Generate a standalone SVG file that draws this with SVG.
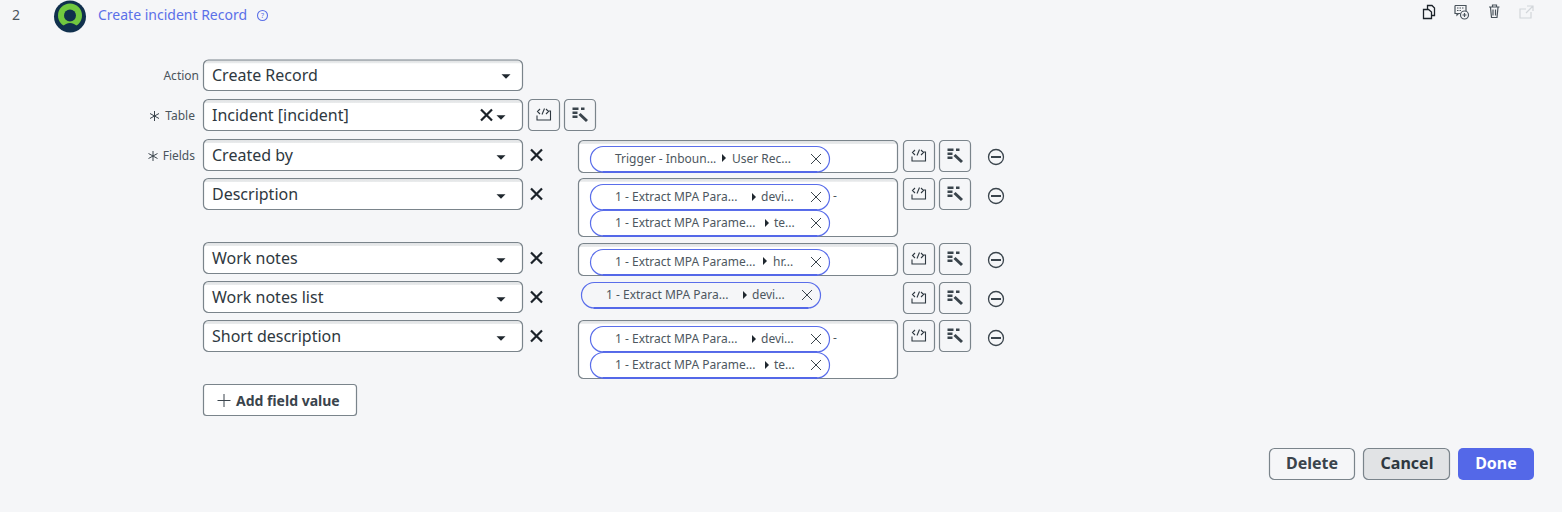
<svg xmlns="http://www.w3.org/2000/svg" width="1562" height="512" viewBox="0 0 1562 512">
<style>
text{font-family:"Noto Sans","Open Sans","Liberation Sans",sans-serif}
.sel{fill:url(#inset);stroke:#7a848b;stroke-width:1.200}
.tall{fill:url(#insetTall);stroke:#7a848b;stroke-width:1.200}
.val{font-size:16px;fill:#2e3840}
.lbl{font-size:12px;fill:#4a545c;text-anchor:end}
.pt{font-size:12px;fill:#4d5760}
.btn{fill:#f5f6f8;stroke:#7a848b;stroke-width:1.200}
.ic{fill:none;stroke:#2e3840;stroke-width:1.100}
.x{fill:none;stroke:#1b2229;stroke-width:2.200}
.px{fill:none;stroke:#3a444c;stroke-width:1}
.b{font-size:16px;font-weight:700;text-anchor:middle;fill:#3a444c}
</style>
<defs>
<linearGradient id="inset" x1="0" y1="0" x2="0" y2="1"><stop offset="0" stop-color="#dfe1e3"/><stop offset="0.1" stop-color="#e9ebec"/><stop offset="0.12" stop-color="#fff"/></linearGradient>
<linearGradient id="insetTall" x1="0" y1="0" x2="0" y2="1"><stop offset="0" stop-color="#dfe1e3"/><stop offset="0.05" stop-color="#e9ebec"/><stop offset="0.06" stop-color="#fff"/></linearGradient>
<path id="caret" d="M-4.500-2H4.500L0 2.500Z" fill="#1f272e"/>
<path id="tri" d="M0-4L4 0L0 4Z" fill="#1f272e"/>
<g id="pill"><rect x="0" y="0" width="239" height="25.500" rx="12.700" fill="none" stroke="#5a6eea" stroke-width="1.200"/><path d="M12 25.500H227" stroke="#5468e8" stroke-width="1.800" fill="none"/></g>
<g id="code"><rect class="btn" x="0.500" y="0.500" width="31" height="31" rx="4"/><path class="ic" d="M9 16.500V21H22.500V12H20.500M12 10L9.500 12.500L12 15M14 15.500L16.500 9.500M18 10L20.500 12.500L18 15"/></g>
<g id="wand"><rect class="btn" x="0.500" y="0.500" width="31" height="31" rx="4"/><path d="M8.500 9.700h6M8.500 13.700h5M8.500 17.700h5M17 9.700h3.500" stroke="#3a444c" stroke-width="2.400" fill="none"/><path d="M15.500 15L23 22" stroke="#3a444c" stroke-width="3" fill="none"/></g>
<g id="minus"><circle cx="0" cy="0" r="7.500" fill="none" stroke="#3a444c" stroke-width="1.300"/><path d="M-5 0H5" stroke="#3a444c" stroke-width="2"/></g>
<path id="bigx" class="x" d="M-5.500-5.500L5.500 5.500M5.500-5.500L-5.500 5.500"/>
<path id="smx" class="px" d="M-5-5L5 5M5-5L-5 5"/>
</defs>
<rect width="1562" height="512" fill="#f5f6f8"/>

<g id="header">
<text x="12" y="20" font-size="14" fill="#4a545c">2</text>
<circle cx="70" cy="16.500" r="16" fill="#10304d"/>
<circle cx="70" cy="15.500" r="12" fill="#71c83f"/>
<path d="M62 27Q70 19 78 27L76 30H64Z" fill="#10304d"/>
<circle cx="70" cy="15.500" r="6" fill="#10304d"/>
<text x="98" y="20" font-size="14" fill="#5b70e8">Create incident Record</text>
<circle cx="262.500" cy="15.500" r="5" fill="none" stroke="#5b70e8" stroke-width="1.100"/>
<text x="262.500" y="18" font-size="7" fill="#5b70e8" text-anchor="middle">?</text>
</g>

<g id="toolbar" fill="none" stroke="#2e3840" stroke-width="1.200">
<path d="M1427.500 9V5.500H1432L1434.500 8V15.500H1431.500M1423.500 9.500H1428.500L1431.500 12V18.500H1423.500Z" stroke-width="1.300" stroke="#1b2229"/>
<path d="M1455 5.500H1466V11M1460 13.500H1458.500L1457 15V13.500H1455V5.500" stroke="#4a545c"/>
<path d="M1457 8H1464M1457 10.500H1461" stroke="#4a545c" stroke-dasharray="1.500 1"/>
<circle cx="1464.500" cy="15" r="4" stroke="#4a545c"/>
<path d="M1462.500 15h4M1464.500 13v4" stroke="#4a545c"/>
<path d="M1489 7H1499.500M1490.500 7.500L1491.500 17.500H1497L1498 7.500M1492.500 7V5H1496.500V7M1493 9.500V15.500M1495.500 9.500V15.500" stroke="#4a545c"/>
<path d="M1526 9H1520V18H1531V12M1527 6H1533V11M1533 6L1526 13" stroke="#d2d6da"/>
</g>

<g id="action">
<text class="lbl" x="199" y="80">Action</text>
<rect class="sel" x="203.500" y="60" width="319" height="30.500" rx="5"/>
<text class="val" x="212" y="81">Create Record</text>
<use href="#caret" x="506" y="76.300"/>
</g>

<g id="table">
<path d="M154.500 111V121M150 113.500L159 118.500M159 113.500L150 118.500" stroke="#3a444c" stroke-width="1" fill="none"/>
<text class="lbl" x="195" y="120">Table</text>
<rect class="sel" x="203.500" y="99.500" width="319" height="31" rx="5"/>
<text class="val" x="212" y="121">Incident [incident]</text>
<use href="#bigx" x="486.500" y="115"/>
<use href="#caret" x="501" y="117.300"/>
<use href="#code" x="528" y="99"/>
<use href="#wand" x="564" y="99"/>
</g>

<g id="fields-label">
<path d="M153 151V161M148.500 153.500L157.500 158.500M157.500 153.500L148.500 158.500" stroke="#3a444c" stroke-width="1" fill="none"/>
<text class="lbl" x="195" y="160">Fields</text>
</g>

<g id="row-created-by">
<rect class="sel" x="203.500" y="139.500" width="319" height="31" rx="5"/>
<text class="val" x="212" y="161">Created by</text>
<use href="#caret" x="501" y="157.300"/>
<use href="#bigx" x="536.500" y="155"/>
<rect class="sel" x="578.500" y="140.500" width="319" height="32" rx="5"/>
<use href="#pill" x="590.500" y="146.500"/>
<text class="pt" x="615" y="163">Trigger - Inboun...</text><use href="#tri" x="722" y="158"/><text class="pt" x="732" y="163">User Rec...</text>
<use href="#smx" x="816" y="159"/>
<use href="#code" x="903" y="140"/><use href="#wand" x="939" y="140"/><use href="#minus" x="996" y="157"/>
</g>

<g id="row-description">
<rect class="sel" x="203.500" y="178.500" width="319" height="31" rx="5"/>
<text class="val" x="212" y="200">Description</text>
<use href="#caret" x="501" y="196.300"/>
<use href="#bigx" x="536.500" y="194"/>
<rect class="tall" x="578.500" y="178.500" width="319" height="58" rx="5"/>
<use href="#pill" x="590.500" y="184.500"/>
<text class="pt" x="615" y="201">1 - Extract MPA Para...</text><use href="#tri" x="752" y="197"/><text class="pt" x="761" y="201">devi...</text>
<use href="#smx" x="816" y="197"/>
<text class="pt" x="833" y="200">-</text>
<use href="#pill" x="590.500" y="210.500"/>
<text class="pt" x="615" y="227">1 - Extract MPA Parame...</text><use href="#tri" x="765" y="223"/><text class="pt" x="774" y="227">te...</text>
<use href="#smx" x="816" y="223"/>
<use href="#code" x="903" y="178"/><use href="#wand" x="939" y="178"/><use href="#minus" x="996" y="196"/>
</g>

<g id="row-work-notes">
<rect class="sel" x="203.500" y="242.500" width="319" height="31" rx="5"/>
<text class="val" x="212" y="264">Work notes</text>
<use href="#caret" x="501" y="260.300"/>
<use href="#bigx" x="536.500" y="258"/>
<rect class="sel" x="578.500" y="243.500" width="319" height="32" rx="5"/>
<use href="#pill" x="590.500" y="249.500"/>
<text class="pt" x="615" y="266">1 - Extract MPA Parame...</text><use href="#tri" x="763" y="261"/><text class="pt" x="773" y="266">hr...</text>
<use href="#smx" x="816" y="262"/>
<use href="#code" x="903" y="243"/><use href="#wand" x="939" y="243"/><use href="#minus" x="996" y="260"/>
</g>

<g id="row-work-notes-list">
<rect class="sel" x="203.500" y="281.500" width="319" height="31" rx="5"/>
<text class="val" x="212" y="303">Work notes list</text>
<use href="#caret" x="501" y="299.300"/>
<use href="#bigx" x="536.500" y="297"/>
<use href="#pill" x="581.500" y="282.500"/>
<text class="pt" x="606" y="299">1 - Extract MPA Para...</text><use href="#tri" x="743" y="295"/><text class="pt" x="752" y="299">devi...</text>
<use href="#smx" x="807" y="295"/>
<use href="#code" x="903" y="282"/><use href="#wand" x="939" y="282"/><use href="#minus" x="996" y="299"/>
</g>

<g id="row-short-description">
<rect class="sel" x="203.500" y="320.500" width="319" height="31" rx="5"/>
<text class="val" x="212" y="342">Short description</text>
<use href="#caret" x="501" y="338.300"/>
<use href="#bigx" x="536.500" y="336"/>
<rect class="tall" x="578.500" y="320.500" width="319" height="58" rx="5"/>
<use href="#pill" x="590.500" y="326.500"/>
<text class="pt" x="615" y="343">1 - Extract MPA Para...</text><use href="#tri" x="752" y="339"/><text class="pt" x="761" y="343">devi...</text>
<use href="#smx" x="816" y="339"/>
<text class="pt" x="833" y="342">-</text>
<use href="#pill" x="590.500" y="352.500"/>
<text class="pt" x="615" y="369">1 - Extract MPA Parame...</text><use href="#tri" x="765" y="365"/><text class="pt" x="774" y="369">te...</text>
<use href="#smx" x="816" y="365"/>
<use href="#code" x="903" y="320"/><use href="#wand" x="939" y="320"/><use href="#minus" x="996" y="338"/>
</g>

<g id="add-field-value">
<rect x="203.500" y="384.500" width="153" height="31" rx="3" fill="#fff" stroke="#7a848b" stroke-width="1.200"/>
<path d="M224 394V407M217.500 400.500H230.500" stroke="#3a444c" stroke-width="1" fill="none"/>
<text x="236" y="406" font-size="14" font-weight="700" fill="#3a444c">Add field value</text>
</g>

<g id="btn-delete"><rect class="btn" x="1269.500" y="448.500" width="85" height="31" rx="5"/><text class="b" x="1312" y="469">Delete</text></g>
<g id="btn-cancel"><rect x="1363.500" y="448.500" width="86" height="31" rx="5" fill="#e1e3e5" stroke="#7a848b" stroke-width="1.200"/><text class="b" x="1407" y="469" style="fill:#2e3840">Cancel</text></g>
<g id="btn-done"><rect x="1458" y="448" width="76" height="32" rx="5" fill="#5468e8"/><text class="b" x="1496" y="469" style="fill:#fff">Done</text></g>
</svg>
